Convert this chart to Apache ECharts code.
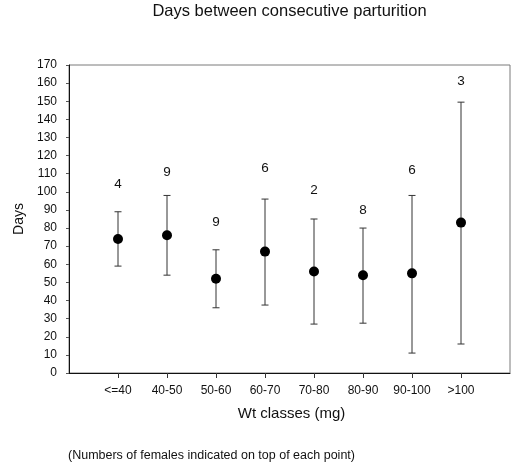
<!DOCTYPE html>
<html>
<head>
<meta charset="utf-8">
<style>html,body{margin:0;padding:0;background:#fff;}#c{width:511px;height:465px;}</style>
<script src="https://cdn.jsdelivr.net/npm/echarts@6/dist/echarts.min.js"></script>
</head>
<body>
<div id="c"></div>
<script>
// ---- data ----
const categories = ['<=40', '40-50', '50-60', '60-70', '70-80', '80-90', '90-100', '>100'];
const meanDays   = [74, 76, 52, 67, 56, 54, 55, 83];
const upperDays  = [89, 98, 68, 96, 85, 80, 98, 149.5];
const lowerDays  = [59, 54, 36, 37.5, 27, 27.5, 11, 16];
const femaleCounts = ['4', '9', '9', '6', '2', '8', '6', '3'];
const countLabelDays = [104, 111, 83, 113, 101, 90, 112, 161];
const yTicks = [0, 170, 10]; // min, max, interval

const FONT = '"Liberation Sans", Arial, sans-serif';
const positions = categories.map((c, i) => i + 1);

const chart = echarts.init(document.getElementById('c'), null, {renderer: 'canvas'});

const errData = categories.map((c, i) => [positions[i], lowerDays[i], upperDays[i]]);
const meanData = categories.map((c, i) => [positions[i], meanDays[i]]);
const lblData = categories.map((c, i) => [positions[i], countLabelDays[i], femaleCounts[i]]);

chart.setOption({
  animation: false,
  backgroundColor: '#fff',
  grid: {left: 69, right: 1, top: 65, bottom: 92, show: true, borderColor: '#7a7a7a', borderWidth: 1, backgroundColor: 'transparent'},
  xAxis: {
    type: 'value', min: 0, max: categories.length + 1,
    splitLine: {show: false},
    axisLine: {show: true, onZero: false, lineStyle: {color: '#111', width: 1}},
    axisTick: {show: true, length: 5, lineStyle: {color: '#333'}, customValues: positions},
    axisLabel: {customValues: positions, margin: 12, color: '#111', fontSize: 12, fontFamily: FONT,
      formatter: v => categories[Math.round(v) - 1] || ''}
  },
  yAxis: {
    type: 'value', min: yTicks[0], max: yTicks[1], interval: yTicks[2],
    splitLine: {show: false},
    axisLine: {show: true, lineStyle: {color: '#111', width: 1}},
    axisTick: {show: true, length: 3, lineStyle: {color: '#555'}},
    axisLabel: {margin: 12, color: '#111', fontSize: 12, fontFamily: FONT}
  },
  series: [
    {
      type: 'custom',
      data: errData,
      z: 2,
      renderItem: function (params, api) {
        const x = api.value(0);
        const lo = api.coord([x, api.value(1)]);
        const hi = api.coord([x, api.value(2)]);
        const cw = 3.5;
        const st = {stroke: '#333', lineWidth: 1};
        return {type: 'group', children: [
          {type: 'line', shape: {x1: lo[0], y1: lo[1], x2: hi[0], y2: hi[1]}, style: st},
          {type: 'line', shape: {x1: hi[0] - cw, y1: hi[1], x2: hi[0] + cw, y2: hi[1]}, style: st},
          {type: 'line', shape: {x1: lo[0] - cw, y1: lo[1], x2: lo[0] + cw, y2: lo[1]}, style: st}
        ]};
      }
    },
    {
      type: 'scatter',
      data: meanData,
      symbol: 'circle',
      symbolSize: 10,
      itemStyle: {color: '#000', opacity: 1},
      z: 3
    },
    {
      type: 'custom',
      data: lblData,
      z: 4,
      renderItem: function (params, api) {
        const p = api.coord([api.value(0), api.value(1)]);
        return {type: 'text', x: p[0], y: p[1], style: {
          text: femaleCounts[params.dataIndex], fill: '#111', font: '13.5px ' + FONT,
          textAlign: 'center', textVerticalAlign: 'middle'}};
      }
    }
  ],
  graphic: [
    {type: 'text', x: 289.5, y: 11, style: {text: 'Days between consecutive parturition', fill: '#111', font: '16.5px ' + FONT, textAlign: 'center', textVerticalAlign: 'middle'}},
    {type: 'text', x: 19, y: 219, rotation: Math.PI / 2, style: {text: 'Days', fill: '#111', font: '14px ' + FONT, textAlign: 'center', textVerticalAlign: 'middle'}},
    {type: 'text', x: 291.5, y: 414, style: {text: 'Wt classes (mg)', fill: '#111', font: '15px ' + FONT, textAlign: 'center', textVerticalAlign: 'middle'}},
    {type: 'text', x: 68, y: 455.5, style: {text: '(Numbers of females indicated on top of each point)', fill: '#111', font: '12.5px ' + FONT, textAlign: 'left', textVerticalAlign: 'middle'}}
  ]
});
</script>
</body>
</html>
